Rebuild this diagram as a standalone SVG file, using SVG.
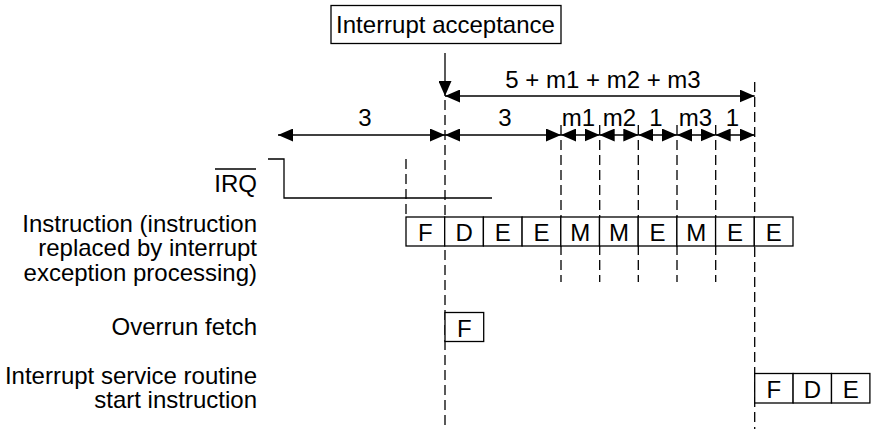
<svg xmlns="http://www.w3.org/2000/svg" width="873" height="429" viewBox="0 0 873 429">
<style>
text{font-family:"Liberation Sans",Arial,sans-serif;font-size:24px;fill:#000}
.r{text-anchor:end}
.c{text-anchor:middle}
.cell{fill:#fff;stroke:#000;stroke-width:1.3}
.ln{fill:none;stroke:#000;stroke-width:1.3}
.dash{fill:none;stroke:#000;stroke-width:1.3;stroke-dasharray:10 5}
.arr{fill:none;stroke:#000;stroke-width:1.3;marker-start:url(#ah);marker-end:url(#ah)}
</style>
<defs>
<marker id="ah" markerUnits="userSpaceOnUse" markerWidth="15" markerHeight="13" refX="15" refY="6.5" orient="auto-start-reverse" viewBox="0 0 15 13">
<path d="M0,0 L15,6.5 L0,13 z" fill="#000"/>
</marker>
<marker id="ad" markerUnits="userSpaceOnUse" markerWidth="15" markerHeight="13" refX="15" refY="6.5" orient="auto" viewBox="0 0 15 13">
<path d="M0,0 L15,6.5 L0,13 z" fill="#000"/>
</marker>
</defs>
<rect width="873" height="429" fill="#fff"/>

<g id="interrupt-acceptance">
<rect class="cell" x="331" y="5.5" width="230" height="38"/>
<text class="c" x="445.5" y="33">Interrupt acceptance</text>
</g>

<g id="guides">
<line class="dash" x1="406" y1="159" x2="406" y2="217"/>
<line class="dash" x1="445" y1="100" x2="445" y2="429"/>
<line class="dash" x1="754.7" y1="82" x2="754.7" y2="429"/>
<line class="dash" x1="561" y1="125" x2="561" y2="282"/>
<line class="dash" x1="599.7" y1="125" x2="599.7" y2="282"/>
<line class="dash" x1="638.3" y1="125" x2="638.3" y2="282"/>
<line class="dash" x1="677" y1="125" x2="677" y2="282"/>
<line class="dash" x1="715.7" y1="125" x2="715.7" y2="282"/>
</g>

<g id="connectors">
<line class="ln" x1="445" y1="53" x2="445" y2="96" marker-end="url(#ad)"/>
<line class="arr" x1="445" y1="96" x2="754.7" y2="96"/>
<line class="arr" x1="278" y1="135" x2="445" y2="135"/>
<line class="arr" x1="445" y1="135" x2="561" y2="135"/>
<line class="arr" x1="561" y1="135" x2="599.7" y2="135"/>
<line class="arr" x1="599.7" y1="135" x2="638.3" y2="135"/>
<line class="arr" x1="638.3" y1="135" x2="677" y2="135"/>
<line class="arr" x1="677" y1="135" x2="715.7" y2="135"/>
<line class="arr" x1="715.7" y1="135" x2="754.7" y2="135"/>
</g>

<g id="timing-labels">
<text class="c" x="603" y="88">5 + m1 + m2 + m3</text>
<text class="c" x="365" y="126">3</text>
<text class="c" x="505" y="126">3</text>
<text class="c" x="578.5" y="126">m1</text>
<text class="c" x="619.5" y="126">m2</text>
<text class="c" x="656" y="126">1</text>
<text class="c" x="695.5" y="126">m3</text>
<text class="c" x="732.5" y="126">1</text>
</g>

<g id="irq">
<text class="r" x="257" y="192">IRQ</text>
<line class="ln" x1="215" y1="169" x2="256" y2="169"/>
<polyline class="ln" points="268,159 284,159 284,198 492,198"/>
</g>

<g id="instruction">
<text class="r" x="257" y="231.5">Instruction (instruction</text>
<text class="r" x="257" y="256">replaced by interrupt</text>
<text class="r" x="257" y="280.5">exception processing)</text>
<rect class="cell" x="406" y="217" width="38.7" height="29"/>
<rect class="cell" x="444.7" y="217" width="38.7" height="29"/>
<rect class="cell" x="483.4" y="217" width="38.7" height="29"/>
<rect class="cell" x="522.1" y="217" width="38.7" height="29"/>
<rect class="cell" x="560.8" y="217" width="38.7" height="29"/>
<rect class="cell" x="599.5" y="217" width="38.7" height="29"/>
<rect class="cell" x="638.2" y="217" width="38.7" height="29"/>
<rect class="cell" x="676.9" y="217" width="38.7" height="29"/>
<rect class="cell" x="715.6" y="217" width="38.7" height="29"/>
<rect class="cell" x="754.3" y="217" width="38.7" height="29"/>
<text class="c" x="425.4" y="241">F</text>
<text class="c" x="464.1" y="241">D</text>
<text class="c" x="502.8" y="241">E</text>
<text class="c" x="541.5" y="241">E</text>
<text class="c" x="580.2" y="241">M</text>
<text class="c" x="618.9" y="241">M</text>
<text class="c" x="657.6" y="241">E</text>
<text class="c" x="696.3" y="241">M</text>
<text class="c" x="735" y="241">E</text>
<text class="c" x="773.7" y="241">E</text>
</g>

<g id="overrun-fetch">
<text class="r" x="257" y="334.5">Overrun fetch</text>
<rect class="cell" x="445" y="312.5" width="38.7" height="29"/>
<text class="c" x="464.3" y="336.5">F</text>
</g>

<g id="isr-start">
<text class="r" x="257" y="383.5">Interrupt service routine</text>
<text class="r" x="257" y="408">start instruction</text>
<rect class="cell" x="754.7" y="373.5" width="38.4" height="29.5"/>
<rect class="cell" x="793.1" y="373.5" width="38.4" height="29.5"/>
<rect class="cell" x="831.5" y="373.5" width="38.4" height="29.5"/>
<text class="c" x="773.9" y="398">F</text>
<text class="c" x="812.3" y="398">D</text>
<text class="c" x="850.7" y="398">E</text>
</g>
</svg>
